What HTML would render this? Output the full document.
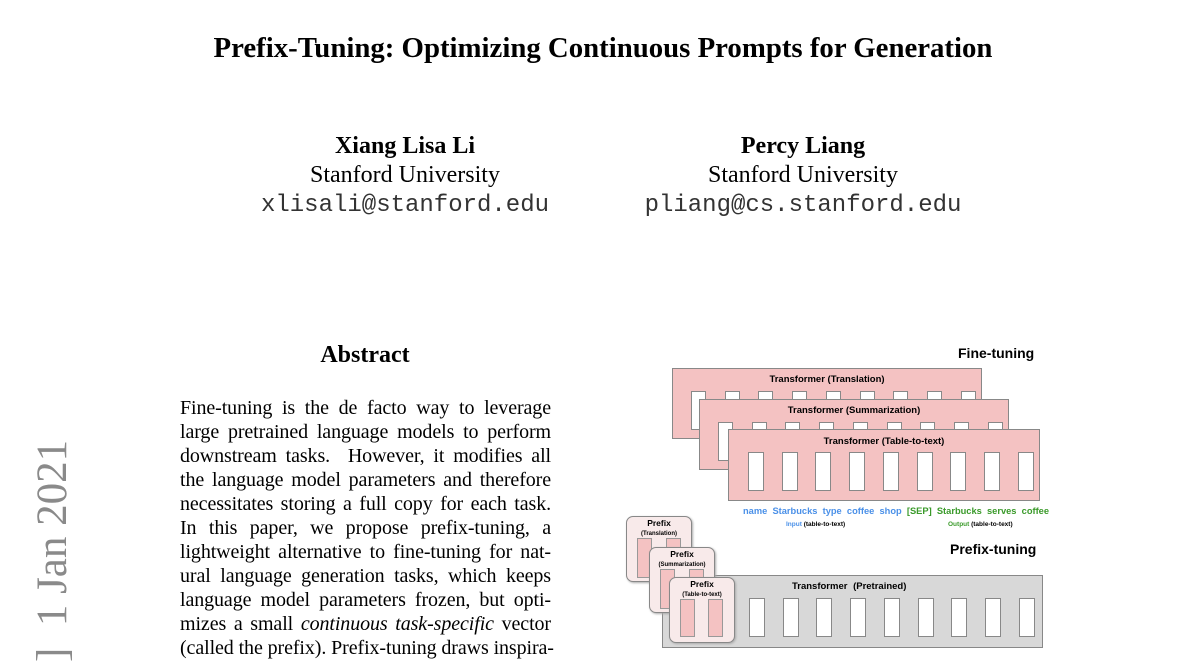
<!DOCTYPE html>
<html><head><meta charset="utf-8"><style>
body{margin:0;width:1200px;height:648px;overflow:hidden;background:#fff;position:relative;font-family:"Liberation Serif",serif;color:#000}
.a{position:absolute}
.c{text-align:center}
.ln{position:absolute;left:180px;width:371px;font-size:20px;line-height:24px;text-align:justify;text-align-last:justify;white-space:nowrap;letter-spacing:-0.1px}
.s{font-family:"Liberation Sans",sans-serif;font-weight:bold}
.box{position:absolute;background:#f4c2c2;border:1.5px solid #888;box-sizing:border-box}
.slot{position:absolute;background:#fff;border:1.5px solid #888;box-sizing:border-box}
.pf{position:absolute;background:#f8eaea;border:1.5px solid #888;border-radius:7px;box-sizing:border-box;box-shadow:1px 1px 2px #aaa}
.ps{position:absolute;background:#f4c2c2;border:1px solid #999;box-sizing:border-box}
</style></head><body>
<div class="a c" style="left:0;width:1206px;top:32px;font-size:28.8px;font-weight:bold;white-space:nowrap">Prefix-Tuning: Optimizing Continuous Prompts for Generation</div>
<div class="a c" style="left:205px;width:400px;top:132px;font-size:24px;line-height:29px"><b>Xiang Lisa Li</b><br>Stanford University<br><span style="font-family:'Liberation Mono',monospace;font-size:24px;color:#333">xlisali@stanford.edu</span></div>
<div class="a c" style="left:603px;width:400px;top:132px;font-size:24px;line-height:29px"><b>Percy Liang</b><br>Stanford University<br><span style="font-family:'Liberation Mono',monospace;font-size:24px;color:#333">pliang@cs.stanford.edu</span></div>
<div class="a c" style="left:215px;width:300px;top:342px;font-size:24px;font-weight:bold">Abstract</div>
<div class="ln" style="top:396px">Fine-tuning is the de facto way to leverage</div>
<div class="ln" style="top:420px">large pretrained language models to perform</div>
<div class="ln" style="top:444px">downstream tasks.&nbsp; However, it modifies all</div>
<div class="ln" style="top:468px">the language model parameters and therefore</div>
<div class="ln" style="top:492px">necessitates storing a full copy for each task.</div>
<div class="ln" style="top:516px">In this paper, we propose prefix-tuning, a</div>
<div class="ln" style="top:540px">lightweight alternative to fine-tuning for nat-</div>
<div class="ln" style="top:564px">ural language generation tasks, which keeps</div>
<div class="ln" style="top:588px">language model parameters frozen, but opti-</div>
<div class="ln" style="top:612px">mizes a small <i>continuous task-specific</i> vector</div>
<div class="ln" style="top:636px">(called the prefix). Prefix-tuning draws inspira-</div>
<div class="a" style="left:28px;top:662px;transform:rotate(-90deg);transform-origin:0 0;font-size:43px;color:#8a8a8a;white-space:nowrap">] &nbsp;1 Jan 2021</div>

<div class="a s" style="left:958px;top:345px;font-size:14px">Fine-tuning</div>
<div class="box" style="left:672px;top:368px;width:310px;height:71px"></div>
<div class="a s c" style="left:672px;width:310px;top:374px;font-size:9.5px">Transformer (Translation)</div>
<div id="b1s"></div>
<div class="box" style="left:699px;top:399px;width:310px;height:71px"></div>
<div class="a s c" style="left:699px;width:310px;top:405px;font-size:9.5px">Transformer (Summarization)</div>
<div id="b2s"></div>
<div class="box" style="left:728px;top:429px;width:312px;height:72px"></div>
<div class="a s c" style="left:728px;width:312px;top:436px;font-size:9.5px">Transformer (Table-to-text)</div>
<div id="b3s"></div>
<div class="a s" style="left:743px;top:506px;font-size:9.3px;word-spacing:2.6px;white-space:nowrap"><span style="color:#4a90e8">name Starbucks type coffee shop</span> <span style="color:#3a9a2a">[SEP] Starbucks serves coffee</span></div>
<div class="a s" style="left:786px;top:521px;font-size:6.5px;white-space:nowrap"><span style="color:#4a90e8">Input</span> (table-to-text)</div>
<div class="a s" style="left:948px;top:521px;font-size:6.5px;white-space:nowrap"><span style="color:#3a9a2a">Output</span> (table-to-text)</div>
<div class="a s" style="left:950px;top:541px;font-size:14px">Prefix-tuning</div>
<div class="a" style="left:662px;top:575px;width:381px;height:73px;background:#d8d8d8;border:1.5px solid #888;box-sizing:border-box"></div>
<div class="a s" style="left:792px;top:581px;font-size:9.5px;word-spacing:3px">Transformer (Pretrained)</div>
<div id="b4s"></div>
<div class="pf" style="left:626px;top:516px;width:66px;height:66px"></div>
<div class="a s c" style="left:626px;width:66px;top:519px;font-size:8.5px;line-height:9px">Prefix<br><span style="font-size:6px">(Translation)</span></div>
<div class="ps" style="left:637px;top:538px;width:15px;height:40px"></div><div class="ps" style="left:666px;top:538px;width:15px;height:40px"></div>
<div class="pf" style="left:649px;top:547px;width:66px;height:66px"></div>
<div class="a s c" style="left:649px;width:66px;top:550px;font-size:8.5px;line-height:9px">Prefix<br><span style="font-size:6px">(Summarization)</span></div>
<div class="ps" style="left:660px;top:569px;width:15px;height:40px"></div><div class="ps" style="left:689px;top:569px;width:15px;height:40px"></div>
<div class="pf" style="left:669px;top:577px;width:66px;height:66px"></div>
<div class="a s c" style="left:669px;width:66px;top:580px;font-size:8.5px;line-height:9px">Prefix<br><span style="font-size:6px">(Table-to-text)</span></div>
<div class="ps" style="left:680px;top:599px;width:15px;height:38px"></div><div class="ps" style="left:708px;top:599px;width:15px;height:38px"></div>
<script>
function add(id,x0,y,h,w){var ref=document.getElementById(id);for(var i=0;i<9;i++){var d=document.createElement('div');d.className='slot';d.style.cssText='left:'+(x0+i*33.7)+'px;top:'+y+'px;width:'+w+'px;height:'+h+'px';ref.parentNode.insertBefore(d,ref);}}
add('b1s',691,391,39,15);
add('b2s',718,422,39,15);
add('b3s',748,452,39,16);
add('b4s',749,598,39,16);
</script>
</body></html>
